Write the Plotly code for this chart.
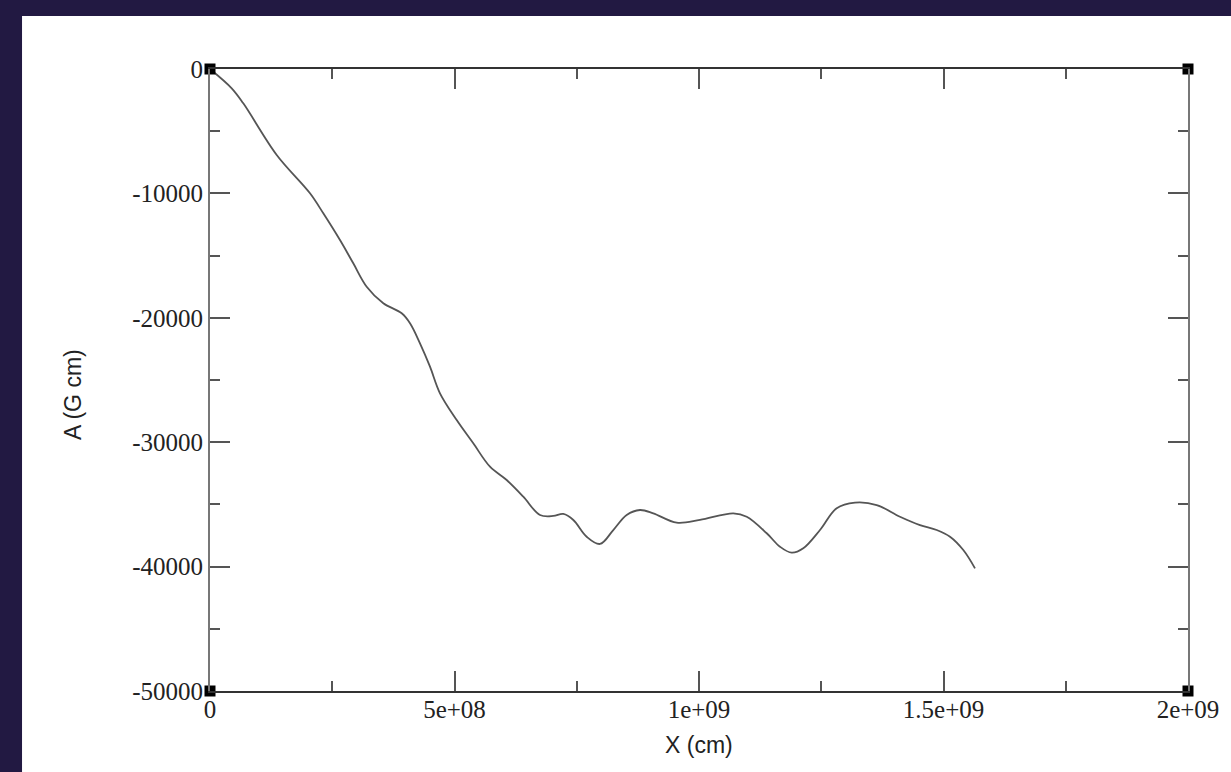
import plotly.graph_objects as go

# Vector potential A along X
x_cm = [0, 4.44e7, 6.81e7, 1.364e8, 2.045e8, 2.317e8, 2.658e8, 2.930e8, 3.204e8,
        3.544e8, 3.920e8, 4.090e8, 4.294e8, 4.499e8, 4.703e8, 5.045e8, 5.384e8,
        5.726e8, 6.067e8, 6.407e8, 6.748e8, 7.020e8, 7.225e8, 7.430e8, 7.703e8,
        7.975e8, 8.247e8, 8.521e8, 8.793e8, 9.065e8, 9.544e8, 1.002e9, 1.0702e9,
        1.0976e9, 1.1385e9, 1.1656e9, 1.1896e9, 1.2133e9, 1.2474e9, 1.2816e9,
        1.3190e9, 1.3634e9, 1.4110e9, 1.4519e9, 1.4861e9, 1.5133e9, 1.5405e9,
        1.5644e9]
a_gcm = [0, -1550, -2760, -6910, -9990, -11600, -13750, -15620, -17500,
         -18830, -19640, -20440, -22050, -23930, -26070, -28220, -30090,
         -31970, -33040, -34380, -35850, -35930, -35770, -36250, -37600,
         -38180, -37060, -35850, -35450, -35720, -36470, -36250, -35720,
         -35990, -37320, -38400, -38880, -38530, -37060, -35310,
         -34860, -35050, -35990, -36660, -37060, -37600, -38670,
         -40140]

x_tickvals = [0, 5e8, 1e9, 1.5e9, 2e9]
x_ticktext = ["0", "5e+08", "1e+09", "1.5e+09", "2e+09"]
y_tickvals = [0, -10000, -20000, -30000, -40000, -50000]
y_ticktext = ["0", "-10000", "-20000", "-30000", "-40000", "-50000"]

# corners of the viewport
corner_x = [0, 2e9, 0, 2e9]
corner_y = [0, 0, -50000, -50000]

fig = go.Figure()
fig.add_trace(go.Scatter(x=x_cm, y=a_gcm, mode="lines",
                         line=dict(color="#555555", width=1.8, shape="spline", smoothing=1.0),
                         showlegend=False, hoverinfo="x+y"))
fig.add_trace(go.Scatter(x=corner_x, y=corner_y, mode="markers",
                         marker=dict(symbol="square", size=11, color="black"),
                         cliponaxis=False, showlegend=False, hoverinfo="skip"))

# white page framed by a dark border
fig.add_shape(type="rect", xref="paper", yref="paper",
              x0=-0.1922, x1=1.2, y0=-0.3, y1=1.0852,
              fillcolor="white", line=dict(width=0), layer="below")

tick_font = dict(family="Liberation Serif", size=25, color="#222")
fig.update_xaxes(range=[0, 2e9], showgrid=False, zeroline=False,
                 showline=True, linecolor="#333", linewidth=2, mirror="allticks",
                 ticks="inside", ticklen=20, tickwidth=2, tickcolor="#555",
                 tickvals=x_tickvals, ticktext=x_ticktext, tickfont=tick_font,
                 ticklabelstandoff=-5,
                 minor=dict(ticks="inside", ticklen=10, tickwidth=2, tickcolor="#555",
                            dtick=2.5e8, tick0=0, showgrid=False))
fig.update_yaxes(range=[-50000, 0], showgrid=False, zeroline=False,
                 showline=True, linecolor="#777", linewidth=2, mirror="allticks",
                 ticks="inside", ticklen=20, tickwidth=2, tickcolor="#555",
                 tickvals=y_tickvals, ticktext=y_ticktext, tickfont=tick_font,
                 minor=dict(ticks="inside", ticklen=10, tickwidth=2, tickcolor="#555",
                            dtick=5000, tick0=0, showgrid=False))

title_font = dict(family="Liberation Sans", size=23, color="#222")
fig.add_annotation(text="X (cm)", xref="paper", yref="paper",
                   x=0.5, y=-0.087, yanchor="middle", xanchor="center",
                   showarrow=False, font=title_font)
fig.add_annotation(text="A (G cm)", xref="paper", yref="paper",
                   x=-0.14, y=0.476, yanchor="middle", xanchor="center",
                   textangle=-90, showarrow=False, font=title_font)

fig.update_layout(width=1231, height=772,
                  margin=dict(l=210, r=43, t=69, b=81),
                  paper_bgcolor="#221942", plot_bgcolor="white")

fig.write_html("out.html")
